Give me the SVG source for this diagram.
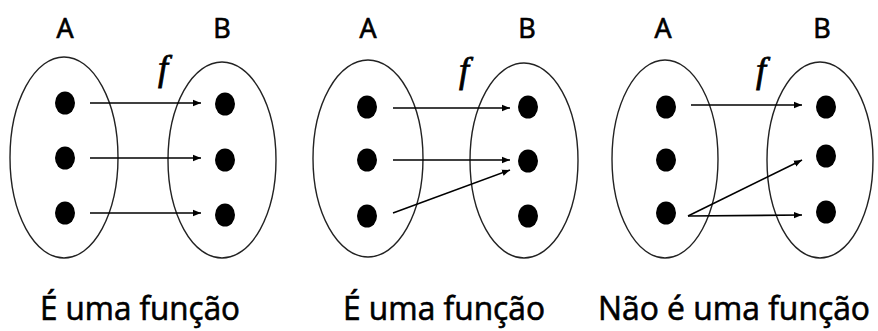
<svg xmlns="http://www.w3.org/2000/svg" width="878" height="331" viewBox="0 0 878 331">
<style>
.set{fill:none;stroke:#222;stroke-width:1.4}
.dot{fill:#000}
.lbl{font-family:"Open Sans","Liberation Sans",sans-serif;font-size:27px;fill:#000;stroke:#000;stroke-width:0.7;text-anchor:middle}
.f{font-family:"Liberation Serif",serif;font-style:italic;font-size:36px;fill:#000;stroke:#000;stroke-width:0.8;text-anchor:middle}
.cap{font-family:"Open Sans","Liberation Sans",sans-serif;font-size:32px;fill:#000;stroke:#000;stroke-width:0.6}
.arr{fill:none;stroke:#000;stroke-width:1.6;marker-end:url(#ah)}
</style>
<defs>
<marker id="ah" viewBox="0 0 10 10" refX="10" refY="5" markerWidth="5" markerHeight="5" orient="auto" markerUnits="strokeWidth">
<path d="M0,1 L10,5 L0,9 z" fill="#000"/>
</marker>
</defs>
<rect width="878" height="331" fill="#fff"/>
<g id="panel1">
<g id="p1-A"><ellipse class="set" cx="64" cy="157.5" rx="54" ry="100.5"/><text class="lbl" x="65" y="38">A</text>
<ellipse class="dot" cx="65" cy="103" rx="10" ry="11.5"/><ellipse class="dot" cx="65" cy="158" rx="10" ry="11.5"/><ellipse class="dot" cx="65" cy="213" rx="10" ry="11.5"/></g>
<g id="p1-B"><ellipse class="set" cx="222" cy="160" rx="54" ry="98"/><text class="lbl" x="222" y="38">B</text>
<ellipse class="dot" cx="225" cy="104" rx="10" ry="11.5"/><ellipse class="dot" cx="225" cy="160" rx="10" ry="11.5"/><ellipse class="dot" cx="225" cy="215" rx="10" ry="11.5"/></g>
<text class="f" x="163" y="80">f</text>
<text class="cap" x="40" y="320" textLength="200" lengthAdjust="spacingAndGlyphs">É uma função</text>
</g>
<g id="panel2">
<g id="p2-A"><ellipse class="set" cx="368" cy="158.5" rx="55" ry="98.5"/><text class="lbl" x="368" y="38">A</text>
<ellipse class="dot" cx="367" cy="107" rx="10" ry="11.5"/><ellipse class="dot" cx="367" cy="160" rx="10" ry="11.5"/><ellipse class="dot" cx="367" cy="216" rx="10" ry="11.5"/></g>
<g id="p2-B"><ellipse class="set" cx="524" cy="160.5" rx="54" ry="97.5"/><text class="lbl" x="527" y="38">B</text>
<ellipse class="dot" cx="528" cy="107" rx="10" ry="11.5"/><ellipse class="dot" cx="528" cy="161" rx="10" ry="11.5"/><ellipse class="dot" cx="528" cy="216" rx="10" ry="11.5"/></g>
<text class="f" x="464" y="82">f</text>
<text class="cap" x="343" y="320" textLength="202" lengthAdjust="spacingAndGlyphs">É uma função</text>
</g>
<g id="panel3">
<g id="p3-A"><ellipse class="set" cx="665" cy="159" rx="53" ry="99"/><text class="lbl" x="663" y="38">A</text>
<ellipse class="dot" cx="666" cy="107" rx="10" ry="11.5"/><ellipse class="dot" cx="666" cy="160" rx="10" ry="11.5"/><ellipse class="dot" cx="666" cy="213" rx="10" ry="11.5"/></g>
<g id="p3-B"><ellipse class="set" cx="820" cy="160" rx="53" ry="98"/><text class="lbl" x="822" y="38">B</text>
<ellipse class="dot" cx="826" cy="107" rx="10" ry="11.5"/><ellipse class="dot" cx="826" cy="156" rx="10" ry="11.5"/><ellipse class="dot" cx="826" cy="212" rx="10" ry="11.5"/></g>
<text class="f" x="761" y="82">f</text>
<text class="cap" x="598" y="320" textLength="272" lengthAdjust="spacingAndGlyphs">Não é uma função</text>
</g>
<g id="connectors">
<line class="arr" x1="90" y1="103" x2="201" y2="103"/>
<line class="arr" x1="90" y1="158" x2="201" y2="158"/>
<line class="arr" x1="90" y1="213" x2="201" y2="213"/>
<line class="arr" x1="393" y1="108" x2="510" y2="108"/>
<line class="arr" x1="393" y1="160" x2="510" y2="160"/>
<line class="arr" x1="393" y1="213" x2="510" y2="170"/>
<line class="arr" x1="691" y1="105" x2="802" y2="105"/>
<line class="arr" x1="688" y1="216" x2="802" y2="160"/>
<line class="arr" x1="688" y1="216" x2="802" y2="215"/>
</g>
</svg>
